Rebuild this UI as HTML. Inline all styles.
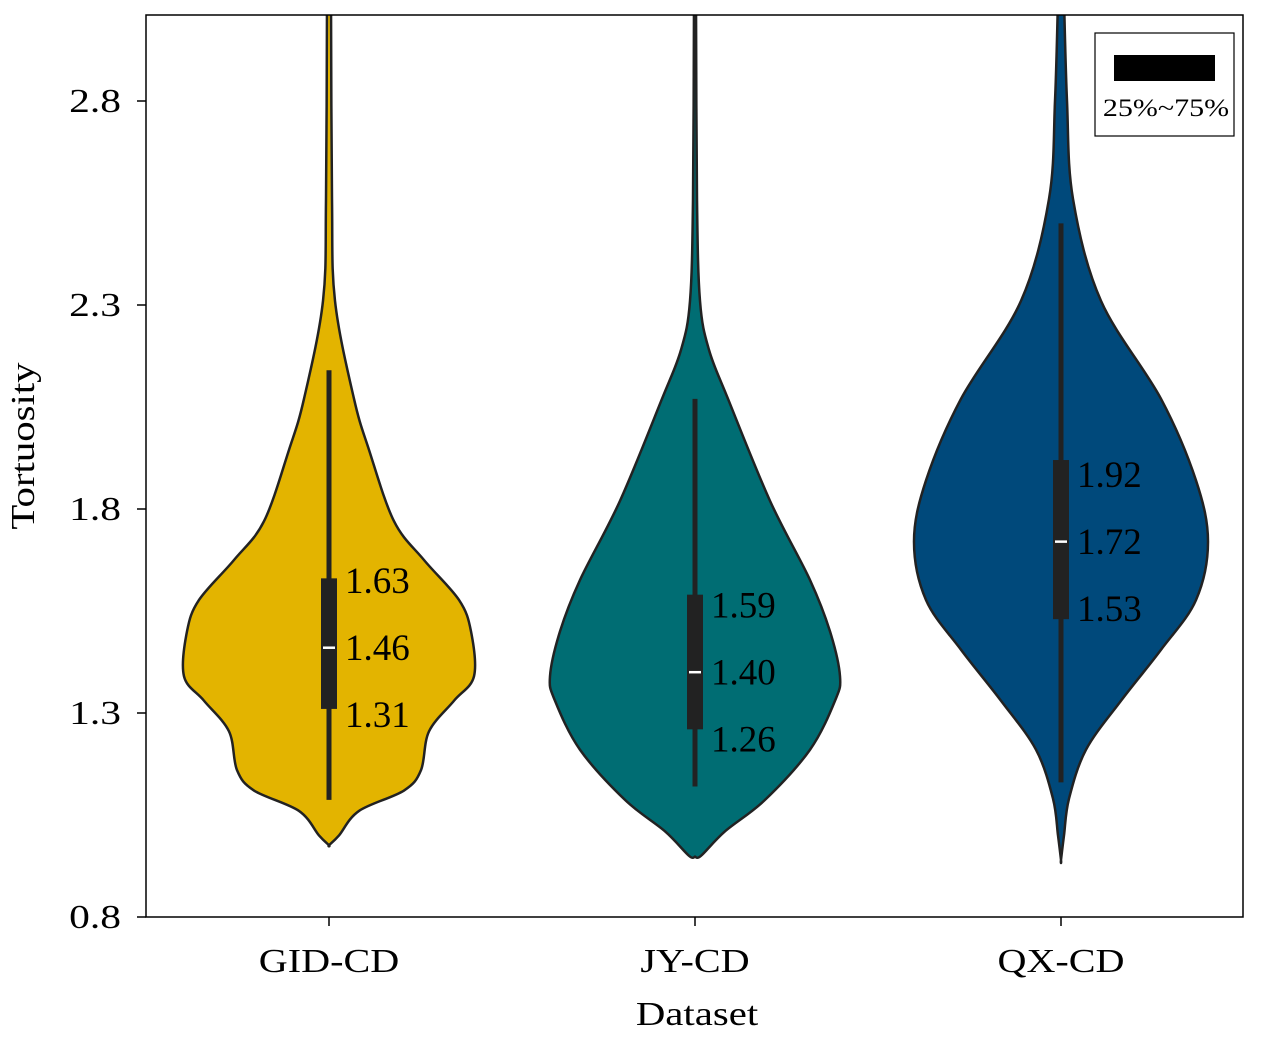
<!DOCTYPE html>
<html><head><meta charset="utf-8"><style>
html,body{margin:0;padding:0;background:#fff;}
svg text{font-family:"Liberation Serif",serif;fill:#000;}
</style></head><body>
<svg id="chart" width="1261" height="1037" viewBox="0 0 1261 1037">
<defs><clipPath id="pc"><rect x="146" y="15" width="1097" height="902"/></clipPath></defs>
<g id="plot" clip-path="url(#pc)"></g>
<g id="labels"></g>
<rect x="146" y="15" width="1097" height="902" fill="none" stroke="#000" stroke-width="1.5"/>
<g id="axes"></g>
<text class="wide" x="34" y="446" font-size="34" text-anchor="middle" transform="rotate(-90 34 446)">Tortuosity</text>
<text class="wide" x="697" y="1025" font-size="34" text-anchor="middle">Dataset</text>
<g>
<rect x="1095" y="33" width="139" height="103" fill="#fff" stroke="#000" stroke-width="1.2"/>
<rect x="1114" y="55" width="101" height="26" fill="#000"/>
<text class="wide" x="1166" y="116" font-size="25" text-anchor="middle">25%~75%</text>
</g>
</svg>
<script>
const categories = ["GID-CD","JY-CD","QX-CD"];
const colors = ["#E3B400","#006D73","#00497B"];
const yTicks = [0.8,1.3,1.8,2.3,2.8];
const q1 = [1.31,1.26,1.53];
const medians = [1.46,1.40,1.72];
const q3 = [1.63,1.59,1.92];
const whiskLo = [1.087,1.12,1.13];
const whiskHi = [2.14,2.07,2.50];
// density profiles: value levels and half-width (px)
const gidV = [3.05,2.56,2.31,2.07,1.945,1.77,1.675,1.577,1.50,1.39,1.33,1.255,1.16,1.11,1.06,1.0,0.976];
const gidW = [2,3,6,25,40,65,95,130,142,145,125,100,92,75,30,10,0];
const jyV = [3.05,2.56,2.31,2.19,2.07,1.82,1.626,1.50,1.39,1.33,1.21,1.087,1.01,0.95,0.948];
const jyW = [1,2,5,14,33,75,115,135,145,140,115,70,30,6,0];
const qxV = [3.05,2.80,2.56,2.31,2.07,1.87,1.72,1.577,1.455,1.33,1.21,1.09,1.0,0.94];
const qxW = [3,6,12,40,100,135,147,135,100,60,25,8,3,0];
const profV=[gidV,jyV,qxV], profW=[gidW,jyW,qxW];
const NS="http://www.w3.org/2000/svg";
function yS(v){return 917-(v-0.8)*408;}
function xS(i){return 329+i*366;}
const plot=document.getElementById('plot'), axes=document.getElementById('axes'), labels=document.getElementById('labels');
function mk(tag,attrs,parent){const e=document.createElementNS(NS,tag);for(const k in attrs)e.setAttribute(k,attrs[k]);parent.appendChild(e);return e;}
function widen(t,f){const L=t.getComputedTextLength();t.setAttribute('textLength',L*f);t.setAttribute('lengthAdjust','spacingAndGlyphs');}
categories.forEach((c,i)=>{
  const cx=xS(i), V=profV[i], W=profW[i];
  let right=V.map((v,j)=>[cx+W[j],yS(v)]), left=V.map((v,j)=>[cx-W[j],yS(v)]).reverse();
  let pts=right.concat(left);
  let d="M"+pts[0][0]+","+pts[0][1];
  for(let k=0;k<pts.length-1;k++){const p0=pts[Math.max(k-1,0)],p1=pts[k],p2=pts[k+1],p3=pts[Math.min(k+2,pts.length-1)];
    d+=" C"+(p1[0]+(p2[0]-p0[0])/6)+","+(p1[1]+(p2[1]-p0[1])/6)+" "+(p2[0]-(p3[0]-p1[0])/6)+","+(p2[1]-(p3[1]-p1[1])/6)+" "+p2[0]+","+p2[1];}
  d+="Z";
  const v=mk('path',{d:d,fill:colors[i],stroke:"#222",'stroke-width':2.5},plot);
  
  
  const w=mk('line',{x1:cx,x2:cx,y1:yS(whiskHi[i]),y2:yS(whiskLo[i]),stroke:"#222",'stroke-width':5},plot);
  
  
  const b=mk('rect',{x:cx-8,y:yS(q3[i]),width:16,height:yS(q1[i])-yS(q3[i]),fill:"#222"},plot);
  
  
  const m=mk('line',{x1:cx-6,x2:cx+6,y1:yS(medians[i]),y2:yS(medians[i]),stroke:"#fff",'stroke-width':2.5},plot);
  
  
  const my=yS(medians[i])+4;
  [[q3[i],-67,'q3'],[medians[i],0,'median'],[q1[i],67,'q1']].forEach(([val,off,nm])=>{
    const t=mk('text',{x:cx+16,y:my+off,'font-size':37,'dominant-baseline':'middle'},labels);
    t.textContent=val.toFixed(2);
    
    
  });
  const tk=mk('line',{x1:cx,x2:cx,y1:917,y2:926,stroke:"#000",'stroke-width':1.5},axes);
  
  
  const tl=mk('text',{x:cx,y:972,'font-size':34,'text-anchor':'middle'},axes);
  tl.textContent=c;
  
  
  widen(tl,1.18);
});
yTicks.forEach(t=>{
  const y=yS(t);
  const l=mk('line',{x1:137,x2:146,y1:y,y2:y,stroke:"#000",'stroke-width':1.5},axes);
  
  
  const tx=mk('text',{x:121,y:y+11,'font-size':34,'text-anchor':'end'},axes);
  tx.textContent=t.toFixed(1);
  
  
  widen(tx,1.22);
});
document.querySelectorAll('text.wide').forEach(t=>widen(t,1.2));
</script>
</body></html>
